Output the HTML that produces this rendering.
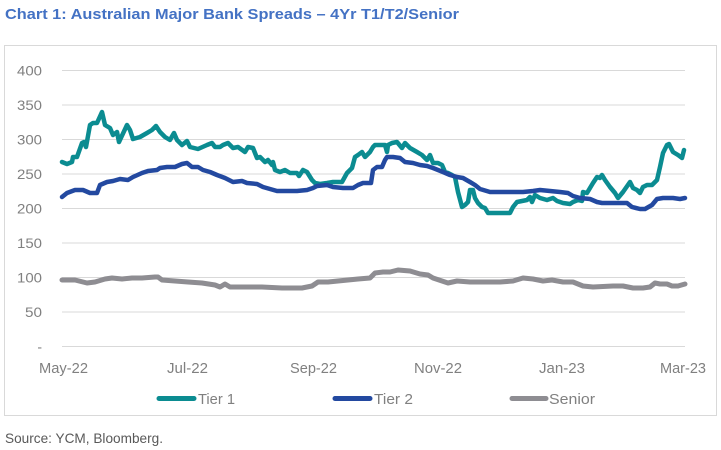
<!DOCTYPE html>
<html><head><meta charset="utf-8"><style>
html,body{margin:0;padding:0;background:#fff;}
svg{display:block;}
</style></head><body>
<svg width="721" height="450" viewBox="0 0 721 450" xmlns="http://www.w3.org/2000/svg" font-family="'Liberation Sans', sans-serif">
<rect width="721" height="450" fill="#fff"/>
<text x="5" y="19" font-size="15" font-weight="bold" fill="#4472C4" textLength="454" lengthAdjust="spacingAndGlyphs">Chart 1: Australian Major Bank Spreads – 4Yr T1/T2/Senior</text>
<rect x="4.5" y="45.5" width="712" height="370" fill="none" stroke="#d9d9d9" stroke-width="1"/>
<g stroke="#d9d9d9" stroke-width="1">
<line x1="62" x2="685" y1="70.5" y2="70.5"/>
<line x1="62" x2="685" y1="105" y2="105"/>
<line x1="62" x2="685" y1="139.5" y2="139.5"/>
<line x1="62" x2="685" y1="174" y2="174"/>
<line x1="62" x2="685" y1="208.5" y2="208.5"/>
<line x1="62" x2="685" y1="243" y2="243"/>
<line x1="62" x2="685" y1="277.5" y2="277.5"/>
<line x1="62" x2="685" y1="312" y2="312"/>
<line x1="62" x2="685" y1="346.5" y2="346.5"/>
</g>
<g font-size="14" fill="#808080" text-anchor="end">
<text x="42" y="75.5" textLength="25" lengthAdjust="spacingAndGlyphs">400</text>
<text x="42" y="110" textLength="25" lengthAdjust="spacingAndGlyphs">350</text>
<text x="42" y="144.5" textLength="25" lengthAdjust="spacingAndGlyphs">300</text>
<text x="42" y="179" textLength="25" lengthAdjust="spacingAndGlyphs">250</text>
<text x="42" y="213.5" textLength="25" lengthAdjust="spacingAndGlyphs">200</text>
<text x="42" y="248" textLength="25" lengthAdjust="spacingAndGlyphs">150</text>
<text x="42" y="282.5" textLength="25" lengthAdjust="spacingAndGlyphs">100</text>
<text x="42" y="317" textLength="17" lengthAdjust="spacingAndGlyphs">50</text>
<text x="42" y="351.5">-</text>
</g>
<g font-size="15" fill="#808080">
<text x="39" y="373" textLength="49" lengthAdjust="spacingAndGlyphs">May-22</text>
<text x="167" y="373" textLength="41" lengthAdjust="spacingAndGlyphs">Jul-22</text>
<text x="290" y="373" textLength="47" lengthAdjust="spacingAndGlyphs">Sep-22</text>
<text x="414" y="373" textLength="48" lengthAdjust="spacingAndGlyphs">Nov-22</text>
<text x="539" y="373" textLength="46" lengthAdjust="spacingAndGlyphs">Jan-23</text>
<text x="660" y="373" textLength="46" lengthAdjust="spacingAndGlyphs">Mar-23</text>
</g>
<g fill="none" stroke-linejoin="round" stroke-linecap="round">
<polyline stroke="#8e8d92" stroke-width="5" points="62,280 68,280 75,280 87,283 95,282 105,279 112,278 122,279 132,278 142,278 155,277 158,277 162,280 175,281 188,282 202,283 215,285 220,287 225,284 230,287 242,287 262,287 282,288 302,288 312,286 318,282 328,282 338,281 348,280 358,279 370,278 375,273 383,272 390,272 398,270 410,271 420,274 428,275 433,278 442,281 448,283 457,281 470,282 483,282 500,282 513,281 523,278 533,279 543,281 552,280 563,282 573,282 583,286 593,287 613,286 623,286 633,288 643,288 650,287 655,283 660,284 667,284 672,286 678,286 685,284"/>
<polyline stroke="#0b8c91" stroke-width="4.5" points="62,162 67,164 72,162 73,157 77,157 82,143 84,142 86,147 90,125 93,123 97,123 102,112 105,125 110,128 113,135 117,132 119,142 127,125 130,130 133,139 140,137 147,133 152,130 156,126 160,132 165,137 170,140 174,133 177,140 182,145 187,141 190,147 198,149 207,145 212,143 215,147 220,147 223,145 228,143 233,148 238,147 245,152 248,147 253,148 257,158 260,157 265,162 268,160 272,165 273,162 275,170 280,172 285,170 290,173 297,173 299,176 303,170 307,172 312,180 315,183 320,184 327,183 333,182 342,182 347,173 352,168 355,157 358,155 362,152 365,157 370,152 373,147 375,145 385,145 387,152 388,145 392,143 397,142 402,148 405,143 410,148 417,152 422,155 427,160 430,155 433,163 438,163 442,165 445,172 448,173 452,175 455,177 458,192 462,207 465,205 468,202 470,190 473,190 475,198 478,203 482,207 485,208 488,213 495,213 503,213 510,213 513,207 517,202 522,201 527,200 530,197 532,202 535,195 540,198 547,200 553,198 557,201 563,203 570,204 573,202 578,200 582,201 583,192 587,193 590,188 593,183 597,177 600,178 602,175 605,180 610,187 615,193 618,198 623,192 630,182 633,188 637,190 640,193 643,187 647,185 652,185 657,180 660,167 663,153 667,145 669,144 673,152 678,155 682,158 684,150"/>
<polyline stroke="#2349a0" stroke-width="4.5" points="62,197 67,193 75,190 83,190 90,193 97,193 100,185 107,182 113,181 120,179 128,180 133,177 142,173 148,171 157,170 160,168 167,167 175,167 182,164 187,163 192,167 198,167 203,170 210,172 217,175 225,178 233,182 242,181 247,183 257,184 263,187 270,189 277,191 283,191 297,191 307,190 313,188 317,186 327,185 333,187 343,188 353,188 358,185 363,183 371,183 373,170 377,167 382,167 385,160 387,157 393,157 400,158 405,162 413,163 420,165 427,166 433,168 443,172 450,175 457,177 463,178 470,182 475,185 480,189 490,192 500,192 513,192 523,192 533,191 540,190 550,191 560,192 568,193 573,196 580,198 590,199 597,202 602,203 610,203 620,203 627,203 632,207 640,209 645,209 652,205 657,199 663,198 673,198 680,199 685,198"/>
</g>
<g stroke-linecap="round" stroke-width="5">
<line x1="159" x2="194" y1="398.5" y2="398.5" stroke="#0b8c91"/>
<line x1="335" x2="370" y1="398.5" y2="398.5" stroke="#2349a0"/>
<line x1="512" x2="546" y1="398.5" y2="398.5" stroke="#8e8d92"/>
</g>
<g font-size="15" fill="#808080">
<text x="198" y="404" textLength="37" lengthAdjust="spacingAndGlyphs">Tier 1</text>
<text x="374" y="404" textLength="39" lengthAdjust="spacingAndGlyphs">Tier 2</text>
<text x="549" y="404" textLength="46" lengthAdjust="spacingAndGlyphs">Senior</text>
</g>
<text x="5" y="443" font-size="14" fill="#595959" textLength="158" lengthAdjust="spacingAndGlyphs">Source: YCM, Bloomberg.</text>
</svg>
</body></html>
